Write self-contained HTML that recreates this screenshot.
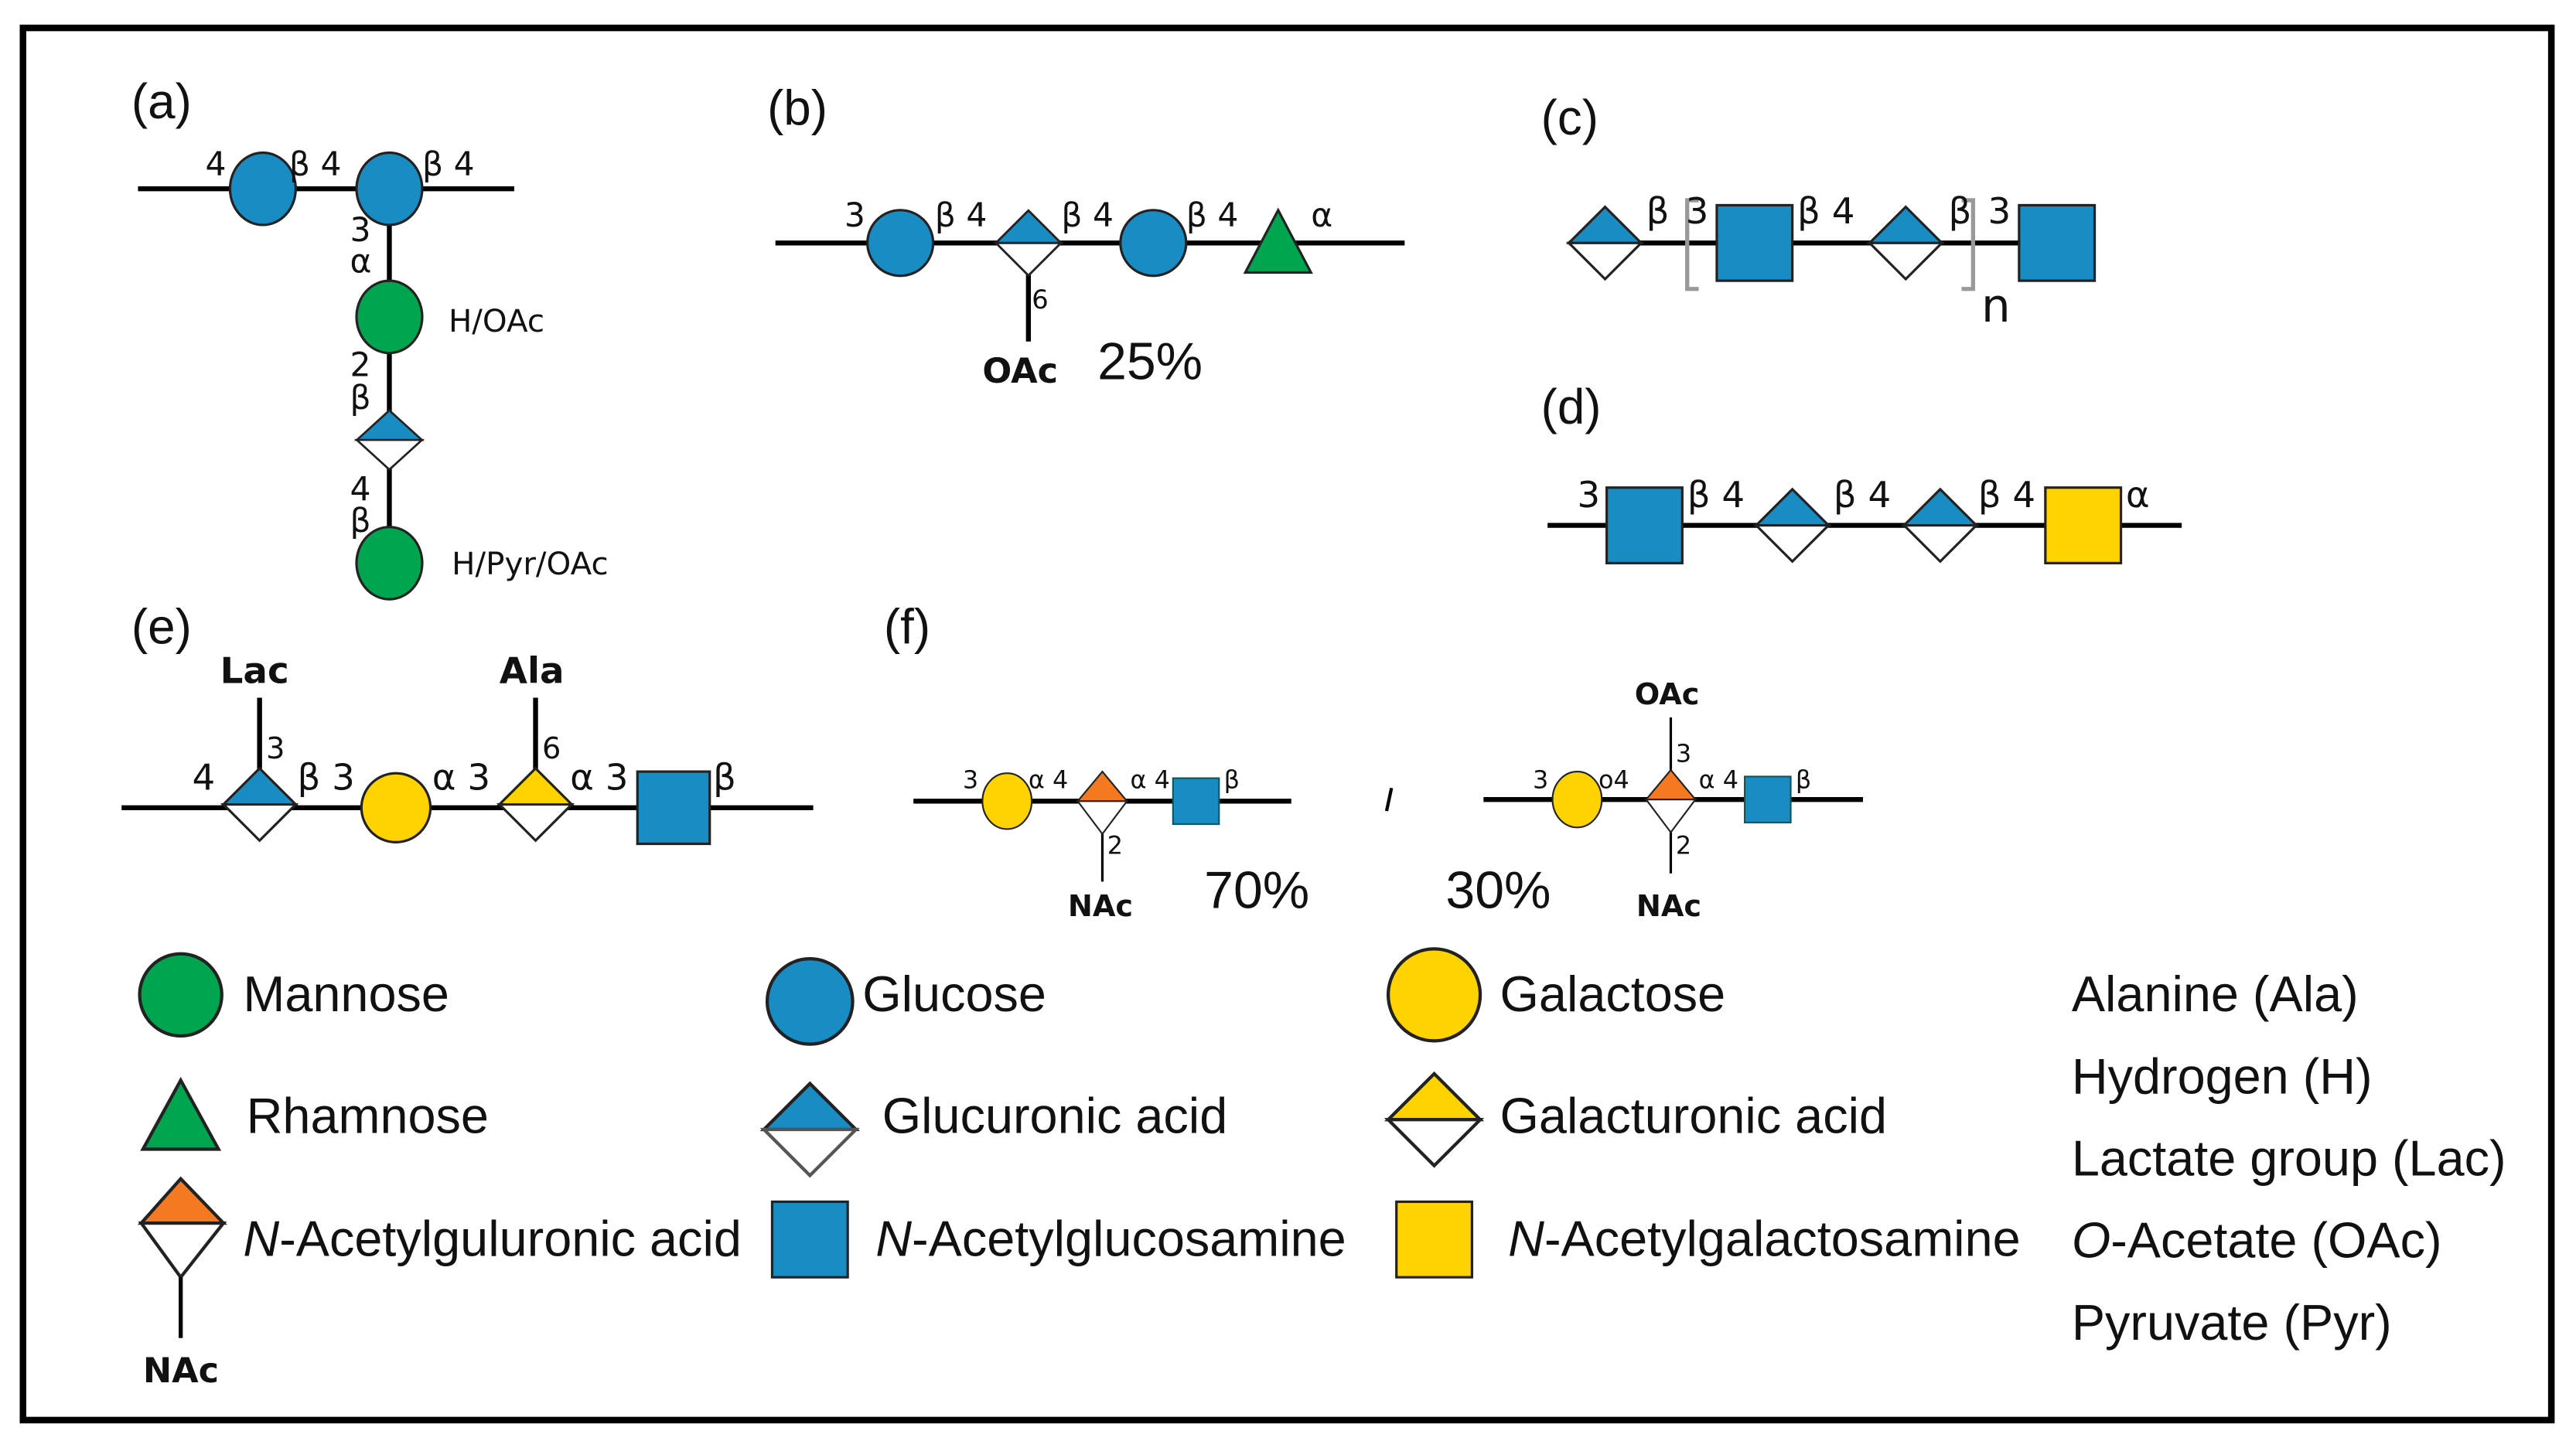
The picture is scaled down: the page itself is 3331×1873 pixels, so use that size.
<!DOCTYPE html>
<html><head><meta charset="utf-8"><style>
html,body{margin:0;padding:0;background:#fff;}
svg{display:block;}
text{font-family:"DejaVu Sans","Liberation Sans",sans-serif;fill:#111;}
.l{font-family:"Liberation Sans",sans-serif;}
.b{font-weight:bold;}
</style></head><body>
<svg width="3331" height="1873" viewBox="0 0 1568 882" preserveAspectRatio="none" xmlns="http://www.w3.org/2000/svg">
<defs>
<g id="dBlue"><polygon points="-22,0 0,-22 22,0" fill="#1a8cc4" stroke="#222" stroke-width="1.5"/><polygon points="-22,0 0,22 22,0" fill="#fff" stroke="#222" stroke-width="1.5"/></g>
<g id="dYel"><polygon points="-22,0 0,-22 22,0" fill="#ffd200" stroke="#222" stroke-width="1.5"/><polygon points="-22,0 0,22 22,0" fill="#fff" stroke="#222" stroke-width="1.5"/></g>
</defs>
<rect x="0" y="0" width="1568" height="882" fill="#fff"/>
<rect x="14" y="17" width="1539" height="848" fill="none" stroke="#000" stroke-width="4"/>

<g font-size="30" class="l">
<text x="80" y="72" class="l">(a)</text><text x="467" y="76" class="l">(b)</text>
<text x="938" y="82" class="l">(c)</text><text x="938" y="258" class="l">(d)</text>
<text x="80" y="392" class="l">(e)</text><text x="538" y="392" class="l">(f)</text>
</g>

<!-- (a) -->
<g stroke="#000" stroke-width="3"><line x1="84" y1="115" x2="313" y2="115"/><line x1="237" y1="115" x2="237" y2="345"/></g>
<ellipse cx="160" cy="115" rx="20" ry="22" fill="#1a8cc4" stroke="#222" stroke-width="1.5"/>
<ellipse cx="237" cy="115" rx="20" ry="22" fill="#1a8cc4" stroke="#222" stroke-width="1.5"/>
<ellipse cx="237" cy="193" rx="20" ry="22" fill="#00a550" stroke="#222" stroke-width="1.5"/>
<use href="#dBlue" transform="translate(237,268) scale(0.9,0.82)"/>
<ellipse cx="237" cy="343" rx="20" ry="22" fill="#00a550" stroke="#222" stroke-width="1.5"/>
<g font-size="20"><text x="125" y="107">4</text><text x="176" y="107">β 4</text><text x="257" y="107">β 4</text>
<text x="213" y="147">3</text><text x="213" y="166">α</text><text x="213" y="229">2</text><text x="213" y="249">β</text>
<text x="213" y="305">4</text><text x="213" y="324">β</text></g>
<g font-size="19"><text x="273" y="202">H/OAc</text><text x="275" y="350">H/Pyr/OAc</text></g>

<!-- (b) -->
<g stroke="#000" stroke-width="3"><line x1="472" y1="148" x2="855" y2="148"/><line x1="626" y1="160" x2="626" y2="208"/></g>
<circle cx="548" cy="148" r="20" fill="#1a8cc4" stroke="#222" stroke-width="1.5"/>
<use href="#dBlue" transform="translate(626,148) scale(0.9,0.9)"/>
<circle cx="702" cy="148" r="20" fill="#1a8cc4" stroke="#222" stroke-width="1.5"/>
<polygon points="778,128 758,166 798,166" fill="#00a550" stroke="#222" stroke-width="1.5"/>
<g font-size="20"><text x="514" y="138">3</text><text x="569" y="138">β 4</text><text x="646" y="138">β 4</text><text x="722" y="138">β 4</text><text x="798" y="138">α</text><text x="628" y="188" font-size="16">6</text></g>
<text x="598" y="233" font-size="21" class="b">OAc</text>
<text x="668" y="231" font-size="32" class="l">25%</text>

<!-- (c) -->
<line x1="955" y1="148" x2="1275" y2="148" stroke="#000" stroke-width="3"/>
<use href="#dBlue" transform="translate(977,148)"/>
<rect x="1045" y="125" width="46" height="46" fill="#1a8cc4" stroke="#222" stroke-width="1.5"/>
<use href="#dBlue" transform="translate(1160,148)"/>
<rect x="1229" y="125" width="46" height="46" fill="#1a8cc4" stroke="#222" stroke-width="1.5"/>
<path d="M1034,122 H1027 V176 H1034 M1194,122 H1201 V176 H1194" fill="none" stroke="#999" stroke-width="2.5"/>
<g font-size="22"><text x="1002" y="136">β</text><text x="1026" y="136">3</text><text x="1094" y="136">β 4</text><text x="1186" y="136">β</text><text x="1210" y="136">3</text><text x="1206" y="196" font-size="28">n</text></g>

<!-- (d) -->
<line x1="942" y1="320" x2="1328" y2="320" stroke="#000" stroke-width="3"/>
<rect x="978" y="297" width="46" height="46" fill="#1a8cc4" stroke="#222" stroke-width="1.5"/>
<use href="#dBlue" transform="translate(1091,320)"/>
<use href="#dBlue" transform="translate(1181,320)"/>
<rect x="1245" y="297" width="46" height="46" fill="#ffd200" stroke="#222" stroke-width="1.5"/>
<g font-size="22"><text x="960" y="309">3</text><text x="1027" y="309">β 4</text><text x="1116" y="309">β 4</text><text x="1204" y="309">β 4</text><text x="1294" y="309">α</text></g>

<!-- (e) -->
<g stroke="#000" stroke-width="3"><line x1="74" y1="492" x2="495" y2="492"/><line x1="158" y1="425" x2="158" y2="470"/><line x1="326" y1="425" x2="326" y2="470"/></g>
<use href="#dBlue" transform="translate(158,490)"/>
<circle cx="241" cy="492" r="21" fill="#ffd200" stroke="#222" stroke-width="1.5"/>
<use href="#dYel" transform="translate(326,490)"/>
<rect x="388" y="470" width="44" height="44" fill="#1a8cc4" stroke="#222" stroke-width="1.5"/>
<g font-size="22"><text x="117" y="481">4</text><text x="162" y="462" font-size="18">3</text><text x="181" y="481">β 3</text><text x="263" y="481">α 3</text><text x="330" y="462" font-size="18">6</text><text x="347" y="481">α 3</text><text x="434" y="481">β</text></g>
<text x="134" y="416" font-size="22" class="b">Lac</text><text x="304" y="416" font-size="22" class="b">Ala</text>

<!-- (f) -->
<g stroke="#000"><line x1="556" y1="488" x2="786" y2="488" stroke-width="3"/><line x1="671" y1="500" x2="671" y2="537" stroke-width="1.5"/>
<line x1="903" y1="487" x2="1134" y2="487" stroke-width="3"/><line x1="1017" y1="437" x2="1017" y2="532" stroke-width="1.5"/></g>
<ellipse cx="613" cy="488" rx="15" ry="17" fill="#ffd200" stroke="#222" stroke-width="1"/>
<polygon points="656,488 671,470 686,488" fill="#f47920" stroke="#222" stroke-width="1"/><polygon points="656,488 671,508 686,488" fill="#fff" stroke="#222" stroke-width="1"/>
<rect x="714" y="474" width="28" height="28" fill="#1a8cc4" stroke="#155" stroke-width="1"/>
<ellipse cx="960" cy="487" rx="15" ry="17" fill="#ffd200" stroke="#222" stroke-width="1"/>
<polygon points="1002,487 1017,469 1032,487" fill="#f47920" stroke="#222" stroke-width="1"/><polygon points="1002,487 1017,507 1032,487" fill="#fff" stroke="#222" stroke-width="1"/>
<rect x="1062" y="473" width="28" height="28" fill="#1a8cc4" stroke="#155" stroke-width="1"/>
<g font-size="15"><text x="586" y="480">3</text><text x="626" y="480">α 4</text><text x="688" y="480">α 4</text><text x="745" y="480">β</text><text x="674" y="520">2</text>
<text x="933" y="480">3</text><text x="973" y="480">o4</text><text x="1034" y="480">α 4</text><text x="1093" y="480">β</text><text x="1020" y="464">3</text><text x="1020" y="520">2</text></g>
<g font-size="18" class="b"><text x="650" y="558">NAc</text><text x="996" y="558">NAc</text><text x="995" y="429">OAc</text></g>
<text x="733" y="553" font-size="32" class="l">70%</text><text x="880" y="553" font-size="32" class="l">30%</text>
<line x1="847" y1="480" x2="844" y2="494" stroke="#000" stroke-width="2"/>

<!-- legend -->
<circle cx="110" cy="606" r="25" fill="#00a550" stroke="#222" stroke-width="2"/>
<polygon points="110,658 87,700 133,700" fill="#00a550" stroke="#222" stroke-width="2"/>
<polygon points="86,745 110,718 136,745" fill="#f47920" stroke="#222" stroke-width="2"/><polygon points="86,745 110,778 136,745" fill="#fff" stroke="#222" stroke-width="2"/>
<line x1="110" y1="778" x2="110" y2="815" stroke="#000" stroke-width="2.5"/>
<text x="87" y="842" font-size="21" class="b">NAc</text>
<circle cx="493" cy="610" r="26" fill="#1a8cc4" stroke="#222" stroke-width="2"/>
<polygon points="465,688 493,660 521,688" fill="#1a8cc4" stroke="#222" stroke-width="2"/><polygon points="465,688 493,716 521,688" fill="#fff" stroke="#555" stroke-width="2"/>
<rect x="470" y="732" width="46" height="46" fill="#1a8cc4" stroke="#222" stroke-width="1.5"/>
<circle cx="873" cy="606" r="28" fill="#ffd200" stroke="#222" stroke-width="2"/>
<polygon points="845,682 873,654 901,682" fill="#ffd200" stroke="#222" stroke-width="2"/><polygon points="845,682 873,710 901,682" fill="#fff" stroke="#222" stroke-width="2"/>
<rect x="850" y="732" width="46" height="46" fill="#ffd200" stroke="#222" stroke-width="1.5"/>
<g font-size="30.5" class="l">
<text x="148" y="616" class="l">Mannose</text><text x="150" y="690" class="l">Rhamnose</text>
<text x="148" y="765" class="l"><tspan font-style="italic">N</tspan>-Acetylguluronic acid</text>
<text x="525" y="616" class="l">Glucose</text><text x="537" y="690" class="l">Glucuronic acid</text>
<text x="533" y="765" class="l"><tspan font-style="italic">N</tspan>-Acetylglucosamine</text>
<text x="913" y="616" class="l">Galactose</text><text x="913" y="690" class="l">Galacturonic acid</text>
<text x="918" y="765" class="l"><tspan font-style="italic">N</tspan>-Acetylgalactosamine</text>
<text x="1261" y="616" class="l">Alanine (Ala)</text><text x="1261" y="666" class="l">Hydrogen (H)</text>
<text x="1261" y="716" class="l">Lactate group (Lac)</text>
<text x="1261" y="766" class="l"><tspan font-style="italic">O</tspan>-Acetate (OAc)</text>
<text x="1261" y="816" class="l">Pyruvate  (Pyr)</text>
</g>
</svg>
</body></html>
